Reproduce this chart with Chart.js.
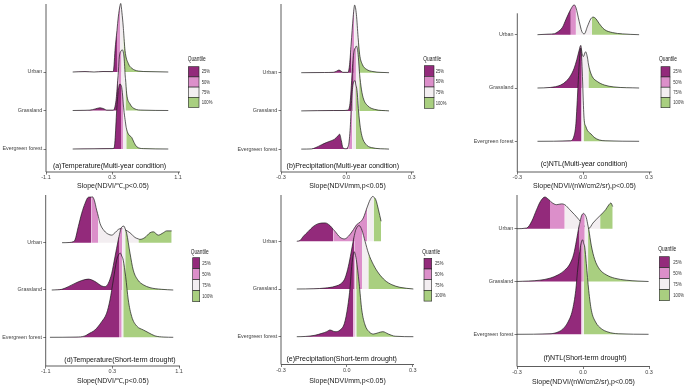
<!DOCTYPE html>
<html>
<head>
<meta charset="utf-8">
<script src="https://cdn.jsdelivr.net/npm/chart.js@4.4.1/dist/chart.umd.min.js"></script>
<style>
html, body { margin: 0; padding: 0; background: #fff; }
#wrap { position: relative; width: 690px; height: 386px; overflow: hidden; background: #fff; }
#wrap canvas { position: absolute; }
</style>
</head>
<body>
<div id="wrap"></div>
<script>
const ridgeNames = ['Evergreen forest', 'Grassland', 'Urban'];
const quantileLabels = ['25%', '50%', '75%', '100%'];
const quantileColors = ['#932a7b', '#dc8fca', '#f3eef1', '#a9cf80'];
const tempTicks = [-1.1, 0, 1.1];
const tempTickLabels = ['-1.1', '0.3', '1.1'];
const slopeTicks = [-0.3, 0, 0.3];
const slopeTickLabels = ['-0.3', '0.0', '0.3'];
const panelTitles = [
  '(a)Temperature(Multi-year condition)', '(b)Precipitation(Multi-year condition)', '(c)NTL(Multi-year condition)',
  '(d)Temperature(Short-term drought)', '(e)Precipitation(Short-term drought)', '(f)NTL(Short-term drought)'
];
const axisTitles = [
  'Slope(NDVI/℃,p<0.05)', 'Slope(NDVI/mm,p<0.05)', 'Slope(NDVI/(nW/cm2/sr),p<0.05)',
  'Slope(NDVI/℃,p<0.05)', 'Slope(NDVI/mm,p<0.05)', 'Slope(NDVI/(nW/cm2/sr),p<0.05)'
];

// ridge heights are in units of ridge spacing; cuts = 25/50/75% quantiles [Evergreen, Grassland, Urban]
// (a) temperature, multi-year
const aEverX = [-0.655, -0.3, 0.0, 0.033, 0.05, 0.078, 0.105, 0.133, 0.15, 0.162, 0.183, 0.188, 0.228, 0.238, 0.272, 0.328, 0.367, 0.412, 0.522, 0.938];
const aEverY = [0, 0.005, 0.01, 0.02, 0.22, 1.0, 1.52, 1.69, 1.66, 1.6, 1.28, 1.17, 0.65, 0.55, 0.39, 0.3, 0.17, 0.06, 0.01, 0];
const aGrassX = [-0.655, -0.45, -0.367, -0.28, -0.2, -0.13, -0.088, 0.022, 0.067, 0.095, 0.108, 0.122, 0.158, 0.167, 0.2, 0.222, 0.225, 0.245, 0.3, 0.383, 0.5, 0.938];
const aGrassY = [0, 0.005, 0.01, 0.04, 0.07, 0.04, 0.01, 0.01, 0.26, 0.78, 1.05, 1.39, 1.56, 1.58, 1.39, 0.87, 0.83, 0.43, 0.17, 0.04, 0.01, 0];
const aUrbanX = [-0.655, -0.45, -0.3, -0.15, 0.0, 0.022, 0.035, 0.05, 0.083, 0.105, 0.133, 0.145, 0.165, 0.188, 0.192, 0.217, 0.272, 0.328, 0.438, 0.6, 0.938];
const aUrbanY = [0, 0.01, 0, 0.012, 0.01, 0.02, 0.2, 0.56, 1.08, 1.43, 1.72, 1.78, 1.55, 1.17, 1.08, 0.56, 0.22, 0.1, 0.025, 0.01, 0];
const aCuts = [[0.15, 0.183, 0.238], [0.108, 0.158, 0.225], [0.083, 0.133, 0.192]];

// (b) precipitation, multi-year
const bEverX = [-0.207, -0.16, -0.14, -0.115, -0.092, -0.069, -0.054, -0.038, -0.031, -0.023, -0.016, -0.003, 0.01, 0.018, 0.024, 0.027, 0.031, 0.04, 0.043, 0.049, 0.056, 0.064, 0.073, 0.089, 0.115, 0.196];
const bEverY = [0, 0.005, 0.04, 0.11, 0.17, 0.22, 0.26, 0.35, 0.39, 0.22, 0.04, 0.01, 0.1, 0.57, 1.27, 1.5, 1.7, 1.79, 1.7, 1.53, 1.0, 0.57, 0.31, 0.13, 0.04, 0];
const bGrassX = [-0.207, -0.06, -0.02, 0.008, 0.018, 0.028, 0.034, 0.044, 0.046, 0.054, 0.059, 0.061, 0.069, 0.079, 0.099, 0.13, 0.196];
const bGrassY = [0, 0.01, 0.01, 0.02, 0.26, 1.13, 1.52, 1.68, 1.7, 1.48, 1.1, 0.96, 0.57, 0.31, 0.13, 0.04, 0];
const bUrbanX = [-0.207, -0.1, -0.06, -0.045, -0.034, -0.024, -0.016, 0.008, 0.015, 0.022, 0.031, 0.036, 0.038, 0.046, 0.054, 0.061, 0.073, 0.092, 0.122, 0.196];
const bUrbanY = [0, 0.005, 0.01, 0.04, 0.07, 0.04, 0.01, 0.01, 0.22, 0.75, 1.44, 1.72, 1.77, 1.53, 0.92, 0.48, 0.22, 0.09, 0.03, 0];
const bCuts = [[0.01, 0.027, 0.043], [0.034, 0.044, 0.059], [0.022, 0.036, 0.054]];

// (c) NTL, multi-year
const cEverX = [-0.208, -0.06, -0.041, -0.033, -0.026, -0.018, -0.011, -0.008, -0.004, 0.002, 0.005, 0.012, 0.02, 0.035, 0.05, 0.073, 0.1, 0.255];
const cEverY = [0, 0.01, 0.11, 0.33, 0.83, 1.45, 1.75, 1.65, 1.3, 0.6, 0.39, 0.28, 0.2, 0.14, 0.075, 0.025, 0.01, 0];
const cGrassX = [-0.208, -0.15, -0.102, -0.079, -0.056, -0.041, -0.029, -0.018, -0.011, -0.005, -0.003, 0.001, 0.011, 0.02, 0.024, 0.03, 0.042, 0.065, 0.096, 0.14, 0.255];
const cGrassY = [0, 0.01, 0.056, 0.12, 0.24, 0.37, 0.53, 0.71, 0.8, 0.65, 0.62, 0.59, 0.68, 0.56, 0.45, 0.34, 0.21, 0.12, 0.056, 0.02, 0];
const cUrbanX = [-0.208, -0.16, -0.13, -0.117, -0.094, -0.079, -0.056, -0.041, -0.033, -0.018, -0.006, 0.005, 0.02, 0.035, 0.04, 0.045, 0.058, 0.073, 0.096, 0.133, 0.18, 0.255];
const cUrbanY = [0, 0.01, 0.02, 0.05, 0.14, 0.28, 0.48, 0.56, 0.51, 0.25, 0.06, 0.015, 0.16, 0.3, 0.32, 0.33, 0.3, 0.21, 0.1, 0.04, 0.015, 0];
const cCuts = [[-0.008, -0.004, 0.002], [-0.011, -0.003, 0.024], [-0.056, -0.033, 0.04]];

// (d) temperature, short-term drought
const dEverX = [-1.03, -0.6, -0.45, -0.397, -0.287, -0.176, -0.094, -0.039, 0.016, 0.071, 0.11, 0.131, 0.155, 0.18, 0.22, 0.263, 0.319, 0.401, 0.511, 0.593, 0.703, 0.85, 1.005];
const dEverY = [0, 0.005, 0.03, 0.07, 0.155, 0.33, 0.51, 0.79, 1.21, 1.63, 1.76, 1.78, 1.72, 1.63, 1.28, 0.79, 0.44, 0.24, 0.155, 0.1, 0.03, 0.005, 0];
const dGrassX = [-1.0, -0.9, -0.836, -0.727, -0.617, -0.506, -0.397, -0.287, -0.176, -0.122, -0.067, -0.011, 0.043, 0.098, 0.11, 0.143, 0.162, 0.191, 0.213, 0.236, 0.291, 0.345, 0.428, 0.511, 0.621, 0.814, 1.005];
const dGrassY = [0, 0.005, 0.014, 0.07, 0.14, 0.2, 0.23, 0.18, 0.085, 0.07, 0.14, 0.35, 0.7, 1.06, 1.13, 1.3, 1.34, 1.35, 1.29, 1.2, 0.78, 0.42, 0.2, 0.11, 0.05, 0.014, 0];
const dUrbanX = [-0.83, -0.7, -0.65, -0.617, -0.562, -0.506, -0.451, -0.397, -0.345, -0.33, -0.298, -0.259, -0.23, -0.204, -0.133, -0.067, -0.011, 0.043, 0.098, 0.15, 0.2, 0.291, 0.374, 0.43, 0.456, 0.538, 0.621, 0.676, 0.758, 0.841, 0.897, 0.979];
const dUrbanY = [0, 0.005, 0.02, 0.056, 0.34, 0.62, 0.83, 0.96, 0.965, 0.97, 0.9, 0.69, 0.55, 0.41, 0.25, 0.18, 0.16, 0.21, 0.28, 0.3, 0.28, 0.21, 0.11, 0.08, 0.07, 0.11, 0.21, 0.23, 0.16, 0.21, 0.25, 0.25];
const dCuts = [[0.11, 0.155, 0.18], [0.11, 0.162, 0.213], [-0.345, -0.23, 0.43]];

// (e) precipitation, short-term drought
const eEverX = [-0.228, -0.19, -0.145, -0.114, -0.092, -0.077, -0.054, -0.031, -0.011, 0.004, 0.015, 0.022, 0.03, 0.034, 0.036, 0.043, 0.056, 0.068, 0.083, 0.101, 0.121, 0.144, 0.164, 0.189, 0.22, 0.303];
const eEverY = [0, 0.005, 0.03, 0.07, 0.105, 0.14, 0.105, 0.14, 0.28, 0.63, 1.05, 1.47, 1.74, 1.78, 1.76, 1.62, 1.12, 0.56, 0.245, 0.105, 0.056, 0.084, 0.105, 0.056, 0.01, 0];
const eGrassX = [-0.228, -0.15, -0.099, -0.054, -0.023, -0.008, 0.007, 0.019, 0.03, 0.034, 0.041, 0.056, 0.069, 0.083, 0.098, 0.121, 0.144, 0.174, 0.205, 0.242, 0.303];
const eGrassY = [0, 0.005, 0.02, 0.056, 0.126, 0.23, 0.475, 0.755, 1.03, 1.12, 1.245, 1.33, 1.23, 1.0, 0.755, 0.51, 0.335, 0.18, 0.09, 0.035, 0];
const eUrbanX = [-0.228, -0.213, -0.198, -0.175, -0.153, -0.13, -0.099, -0.077, -0.062, -0.054, -0.031, -0.011, 0.007, 0.03, 0.045, 0.06, 0.075, 0.093, 0.106, 0.118, 0.122, 0.132, 0.144, 0.156];
const eUrbanY = [0, 0.02, 0.105, 0.21, 0.31, 0.37, 0.385, 0.33, 0.25, 0.21, 0.084, 0.05, 0.105, 0.245, 0.35, 0.4, 0.49, 0.72, 0.87, 0.94, 0.93, 0.87, 0.66, 0.42];
const eCuts = [[0.03, 0.036, 0.043], [0.034, 0.069, 0.098], [-0.062, 0.093, 0.122]];

// (f) NTL, short-term drought
const fEverX = [-0.3, -0.15, -0.113, -0.09, -0.068, -0.048, -0.033, -0.023, -0.012, -0.007, -0.002, 0.003, 0.008, 0.015, 0.026, 0.038, 0.057, 0.083, 0.113, 0.16, 0.298];
const fEverY = [0, 0.01, 0.044, 0.107, 0.234, 0.455, 0.83, 1.275, 1.65, 1.75, 1.79, 1.72, 1.65, 1.34, 0.83, 0.455, 0.234, 0.107, 0.044, 0.01, 0];
const fGrassX = [-0.3, -0.196, -0.15, -0.113, -0.083, -0.06, -0.042, -0.03, -0.018, -0.015, -0.007, 0.003, 0.008, 0.015, 0.023, 0.026, 0.038, 0.053, 0.075, 0.106, 0.143, 0.196, 0.25, 0.298];
const fGrassY = [0, 0.025, 0.063, 0.126, 0.215, 0.33, 0.52, 0.77, 1.05, 1.1, 1.24, 1.29, 1.27, 1.21, 1.05, 0.99, 0.675, 0.42, 0.234, 0.126, 0.063, 0.025, 0.008, 0];
const fUrbanX = [-0.3, -0.256, -0.233, -0.211, -0.193, -0.173, -0.158, -0.15, -0.143, -0.12, -0.098, -0.083, -0.06, -0.038, -0.018, 0.008, 0.027, 0.045, 0.078, 0.103, 0.118, 0.127, 0.135];
const fUrbanY = [0, 0.013, 0.14, 0.36, 0.52, 0.6, 0.56, 0.53, 0.5, 0.455, 0.47, 0.455, 0.36, 0.265, 0.17, 0.044, 0.006, 0.107, 0.25, 0.36, 0.455, 0.486, 0.42];
const fCuts = [[-0.007, -0.002, 0.003], [-0.015, 0.008, 0.023], [-0.15, -0.083, 0.078]];

const panels = [
  { ridges: [[aEverX, aEverY], [aGrassX, aGrassY], [aUrbanX, aUrbanY]], cuts: aCuts, ticks: tempTicks, tickLabels: tempTickLabels },
  { ridges: [[bEverX, bEverY], [bGrassX, bGrassY], [bUrbanX, bUrbanY]], cuts: bCuts, ticks: slopeTicks, tickLabels: slopeTickLabels },
  { ridges: [[cEverX, cEverY], [cGrassX, cGrassY], [cUrbanX, cUrbanY]], cuts: cCuts, ticks: slopeTicks, tickLabels: slopeTickLabels },
  { ridges: [[dEverX, dEverY], [dGrassX, dGrassY], [dUrbanX, dUrbanY]], cuts: dCuts, ticks: tempTicks, tickLabels: tempTickLabels },
  { ridges: [[eEverX, eEverY], [eGrassX, eGrassY], [eUrbanX, eUrbanY]], cuts: eCuts, ticks: slopeTicks, tickLabels: slopeTickLabels },
  { ridges: [[fEverX, fEverY], [fGrassX, fGrassY], [fUrbanX, fUrbanY]], cuts: fCuts, ticks: slopeTicks, tickLabels: slopeTickLabels }
];

// page layout of each panel (absolute px)
const frames = [
  { left: 0, top: 0, w: 230, h: 193, area: [46, 2, 180, 172], tickPx: [46, 178], urbanPy: 72, gap: 38.5, axisTop: 4, titlePad: 2.8,
    title: [109.5, 166], leg: { tx: 187.7, ty: 59, sx: 188.3, sw: 10.7, sy: 66.7, sh: 10.2, lx: 201.7 } },
  { left: 230, top: 0, w: 230, h: 193, area: [281, 2, 414, 172], tickPx: [281, 411.7], urbanPy: 72.7, gap: 38.2, axisTop: 4, titlePad: 2.8,
    title: [342.8, 165.7], leg: { tx: 423.3, ty: 59.3, sx: 424.3, sw: 9.7, sy: 65.7, sh: 10.65, lx: 435.7 } },
  { left: 460, top: 0, w: 230, h: 193, area: [517.3, 2, 651.7, 172], tickPx: [517.3, 649], urbanPy: 34.7, gap: 53.3, axisTop: 13.3, titlePad: 2.8,
    title: [584, 164.3], leg: { tx: 659, ty: 59.3, sx: 661, sw: 9, sy: 66.7, sh: 10.25, lx: 673.3 } },
  { left: 0, top: 190, w: 230, h: 196, area: [45.7, 193, 180, 366], tickPx: [45.7, 179], urbanPy: 242.7, gap: 47.3, axisTop: 195, titlePad: 1.1,
    title: [120, 359.7], leg: { tx: 190.7, ty: 252, sx: 192.7, sw: 7, sy: 257.7, sh: 11, lx: 202.3 } },
  { left: 230, top: 190, w: 230, h: 196, area: [281, 193, 414, 364.5], tickPx: [281, 412.7], urbanPy: 241.3, gap: 47.7, axisTop: 195, titlePad: 0.8,
    title: [341.7, 359], leg: { tx: 422.3, ty: 251.7, sx: 424, sw: 7.7, sy: 258.3, sh: 10.7, lx: 435 } },
  { left: 460, top: 190, w: 230, h: 196, area: [517, 193, 650, 366.5], tickPx: [517, 649], urbanPy: 228.7, gap: 52.8, axisTop: 195, titlePad: 0,
    title: [585, 358.3], leg: { tx: 658.3, ty: 249.3, sx: 659.3, sw: 10, sy: 256.7, sh: 11, lx: 673.3 } }
];

const FONT = '"Liberation Sans", Arial, sans-serif';
Chart.defaults.font.family = FONT;
Chart.defaults.animation = false;

function quantileOf(x, cuts) {
  if (x < cuts[0]) return 0;
  if (x < cuts[1]) return 1;
  if (x < cuts[2]) return 2;
  return 3;
}

function squeezed(ctx, txt, x, y) {
  ctx.save();
  ctx.translate(x, y);
  ctx.scale(0.72, 1);
  ctx.fillText(txt, 0, 0);
  ctx.restore();
}

const decor = {
  id: 'decor',
  afterDraw(chart, args, o) {
    const ctx = chart.ctx, a = chart.chartArea;
    ctx.save();
    ctx.strokeStyle = '#333';
    ctx.lineWidth = 0.8;
    ctx.beginPath();
    ctx.moveTo(a.left, o.axisTop);
    ctx.lineTo(a.left, a.bottom);
    ctx.lineTo(a.right, a.bottom);
    ctx.stroke();

    ctx.fillStyle = '#111';
    ctx.font = '7px ' + FONT;
    ctx.textAlign = 'center';
    ctx.textBaseline = 'middle';
    ctx.fillText(o.text, o.tx, o.ty);

    const L = o.leg;
    ctx.textAlign = 'left';
    ctx.fillStyle = '#222';
    ctx.font = '6.7px ' + FONT;
    squeezed(ctx, 'Quantile', L.tx, L.ty);
    ctx.font = '5.8px ' + FONT;
    quantileLabels.forEach((lab, i) => {
      const y = L.sy + i * L.sh;
      ctx.fillStyle = quantileColors[i];
      ctx.fillRect(L.sx, y, L.sw, L.sh);
      ctx.strokeStyle = '#222';
      ctx.lineWidth = 0.6;
      ctx.strokeRect(L.sx, y, L.sw, L.sh);
      ctx.fillStyle = '#333';
      squeezed(ctx, lab, L.lx, y + L.sh / 2);
    });
    ctx.restore();
  }
};

const wrap = document.getElementById('wrap');

panels.forEach((p, n) => {
  const g = frames[n];
  const cv = document.createElement('canvas');
  cv.width = g.w;
  cv.height = g.h;
  cv.style.left = g.left + 'px';
  cv.style.top = g.top + 'px';
  wrap.appendChild(cv);

  const [aL, aT, aR, aB] = g.area;
  const k = (g.tickPx[1] - g.tickPx[0]) / (p.ticks[2] - p.ticks[0]);
  const xMin = p.ticks[0] - (g.tickPx[0] - aL) / k;
  const xMax = xMin + (aR - aL) / k;
  const yMax = 3 + (g.urbanPy - aT) / g.gap;
  const yMin = 1 - (aB - (g.urbanPy + 2 * g.gap)) / g.gap;

  // index 0 (Evergreen) is drawn last, so lower ridges overlap upper ones
  const datasets = p.ridges.map(([xs, hs], i) => {
    const base = i + 1;
    const cuts = p.cuts[i];
    return {
      data: xs.map((x, j) => ({ x: x, y: base + hs[j] })),
      borderColor: '#1a1a1a',
      borderWidth: 0.7,
      backgroundColor: quantileColors[0],
      fill: { value: base },
      pointRadius: 0,
      cubicInterpolationMode: 'monotone',
      segment: {
        backgroundColor: c => quantileColors[quantileOf((xs[c.p0DataIndex] + xs[c.p1DataIndex]) / 2, cuts)]
      }
    };
  });

  const tickGrid = { drawOnChartArea: false, drawTicks: true, tickLength: 2.5, tickColor: '#444', tickWidth: 0.7 };

  new Chart(cv, {
    type: 'line',
    data: { datasets },
    options: {
      responsive: false,
      devicePixelRatio: 1,
      events: [],
      layout: { padding: { left: 0, top: aT - g.top, right: g.left + g.w - aR, bottom: 0 } },
      scales: {
        x: {
          type: 'linear', min: xMin, max: xMax,
          afterBuildTicks: s => { s.ticks = p.ticks.map(v => ({ value: v })); },
          afterFit: s => { s.height = g.top + g.h - aB; s.paddingLeft = 0; s.paddingRight = 0; },
          ticks: { callback: (v, i) => p.tickLabels[i], font: { size: 5.5 }, color: '#444', padding: 0, maxRotation: 0, autoSkip: false },
          grid: tickGrid,
          border: { display: false },
          title: { display: true, text: axisTitles[n], font: { size: 7 }, color: '#1a1a1a', padding: { top: 0, bottom: g.titlePad } }
        },
        y: {
          type: 'linear', min: yMin, max: yMax,
          afterBuildTicks: s => { s.ticks = [1, 2, 3].map(v => ({ value: v })); },
          afterFit: s => { s.width = aL - g.left; s.paddingTop = 0; s.paddingBottom = 0; },
          ticks: { callback: v => ridgeNames[v - 1], font: { size: 5.4 }, color: '#444', padding: 1.2, autoSkip: false },
          grid: tickGrid,
          border: { display: false }
        }
      },
      plugins: {
        legend: { display: false },
        tooltip: { enabled: false },
        decor: {
          axisTop: g.axisTop - g.top,
          text: panelTitles[n],
          tx: g.title[0] - g.left,
          ty: g.title[1] - g.top,
          leg: {
            tx: g.leg.tx - g.left, ty: g.leg.ty - g.top,
            sx: g.leg.sx - g.left, sw: g.leg.sw,
            sy: g.leg.sy - g.top, sh: g.leg.sh,
            lx: g.leg.lx - g.left
          }
        }
      }
    },
    plugins: [decor]
  });
});
</script>
</body>
</html>
